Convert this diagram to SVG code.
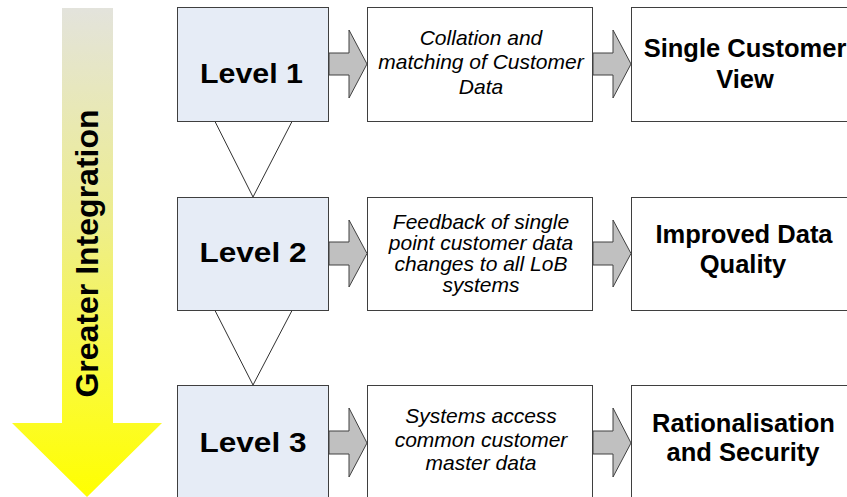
<svg xmlns="http://www.w3.org/2000/svg" width="847" height="497" viewBox="0 0 847 497">
  <defs>
    <linearGradient id="integrationFill" x1="0" y1="0" x2="0" y2="1">
      <stop offset="0" stop-color="#e3e3dc"/>
      <stop offset="0.45" stop-color="#eeee8a"/>
      <stop offset="0.8" stop-color="#fbfb30"/>
      <stop offset="1" stop-color="#ffff00"/>
    </linearGradient>
    <style>
      .box { stroke: #3f3f3f; stroke-width: 1; }
      .level { fill: #e6ecf6; }
      .plain { fill: #ffffff; }
      .flow { fill: #c0c0c0; stroke: #404040; stroke-width: 1; }
      .link { fill: #ffffff; stroke: #303030; stroke-width: 1; }
      .bold { font-family: "Liberation Sans", Arial, sans-serif; font-weight: bold; fill: #000; text-anchor: middle; }
      .note { font-family: "Liberation Sans", Arial, sans-serif; font-style: italic; font-size: 21px; fill: #000; text-anchor: middle; }
      .lvl { font-size: 27px; }
      .res { font-size: 25.5px; }
    </style>
  </defs>

  <!-- big downward arrow on the left -->
  <g id="integration-arrow">
    <polygon points="62,8 113,8 113,423 162,423 87,497 12,423 62,423" fill="url(#integrationFill)"/>
    <text class="bold" font-size="32" transform="translate(98,253.5) rotate(-90)">Greater Integration</text>
  </g>

  <!-- connectors between levels and towards the outcome boxes -->
  <g id="connectors">
    <polygon class="link" points="215,121.5 292,121.5 253,197"/>
    <polygon class="link" points="215,310.5 292,310.5 253,385"/>

    <polygon class="flow" points="329,53 349,53 349,30 367,64 349,98 349,75 329,75"/>
    <polygon class="flow" points="593,53 613,53 613,30 631,64 613,98 613,75 593,75"/>

    <polygon class="flow" points="329,242 349,242 349,220 367,253.5 349,287 349,265 329,265"/>
    <polygon class="flow" points="593,242 613,242 613,220 631,253.5 613,287 613,265 593,265"/>

    <polygon class="flow" points="329,431 349,431 349,408 367,443 349,477 349,454 329,454"/>
    <polygon class="flow" points="593,431 613,431 613,408 631,443 613,477 613,454 593,454"/>
  </g>

  <!-- row 1 -->
  <g id="level-1">
    <rect class="box level" x="177.5" y="7.5" width="151" height="114"/>
    <text class="bold lvl" x="251.5" y="83" textLength="103" lengthAdjust="spacingAndGlyphs">Level 1</text>
  </g>
  <g id="collation">
    <rect class="box plain" x="367.5" y="7.5" width="225" height="114"/>
    <text class="note" x="481" y="45">Collation and</text>
    <text class="note" x="481" y="69">matching of Customer</text>
    <text class="note" x="481" y="94">Data</text>
  </g>
  <g id="single-customer-view">
    <rect class="box plain" x="631.5" y="7.5" width="224" height="114"/>
    <text class="bold res" x="745" y="57">Single Customer</text>
    <text class="bold res" x="745" y="88">View</text>
  </g>

  <!-- row 2 -->
  <g id="level-2">
    <rect class="box level" x="177.5" y="197.5" width="151" height="113"/>
    <text class="bold lvl" x="253" y="262" textLength="107" lengthAdjust="spacingAndGlyphs">Level 2</text>
  </g>
  <g id="feedback">
    <rect class="box plain" x="367.5" y="197.5" width="225" height="113"/>
    <text class="note" x="481" y="229">Feedback of single</text>
    <text class="note" x="481" y="250">point customer data</text>
    <text class="note" x="481" y="271">changes to all LoB</text>
    <text class="note" x="481" y="292">systems</text>
  </g>
  <g id="improved-data-quality">
    <rect class="box plain" x="631.5" y="197.5" width="224" height="113"/>
    <text class="bold res" x="744" y="243">Improved Data</text>
    <text class="bold res" x="743" y="273">Quality</text>
  </g>

  <!-- row 3 -->
  <g id="level-3">
    <rect class="box level" x="177.5" y="385.5" width="151" height="120"/>
    <text class="bold lvl" x="253" y="452" textLength="107" lengthAdjust="spacingAndGlyphs">Level 3</text>
  </g>
  <g id="master-data">
    <rect class="box plain" x="367.5" y="385.5" width="225" height="120"/>
    <text class="note" x="481" y="423">Systems access</text>
    <text class="note" x="481" y="447">common customer</text>
    <text class="note" x="481" y="470">master data</text>
  </g>
  <g id="rationalisation">
    <rect class="box plain" x="631.5" y="385.5" width="224" height="120"/>
    <text class="bold res" x="743.5" y="432">Rationalisation</text>
    <text class="bold res" x="743" y="461">and Security</text>
  </g>
</svg>
